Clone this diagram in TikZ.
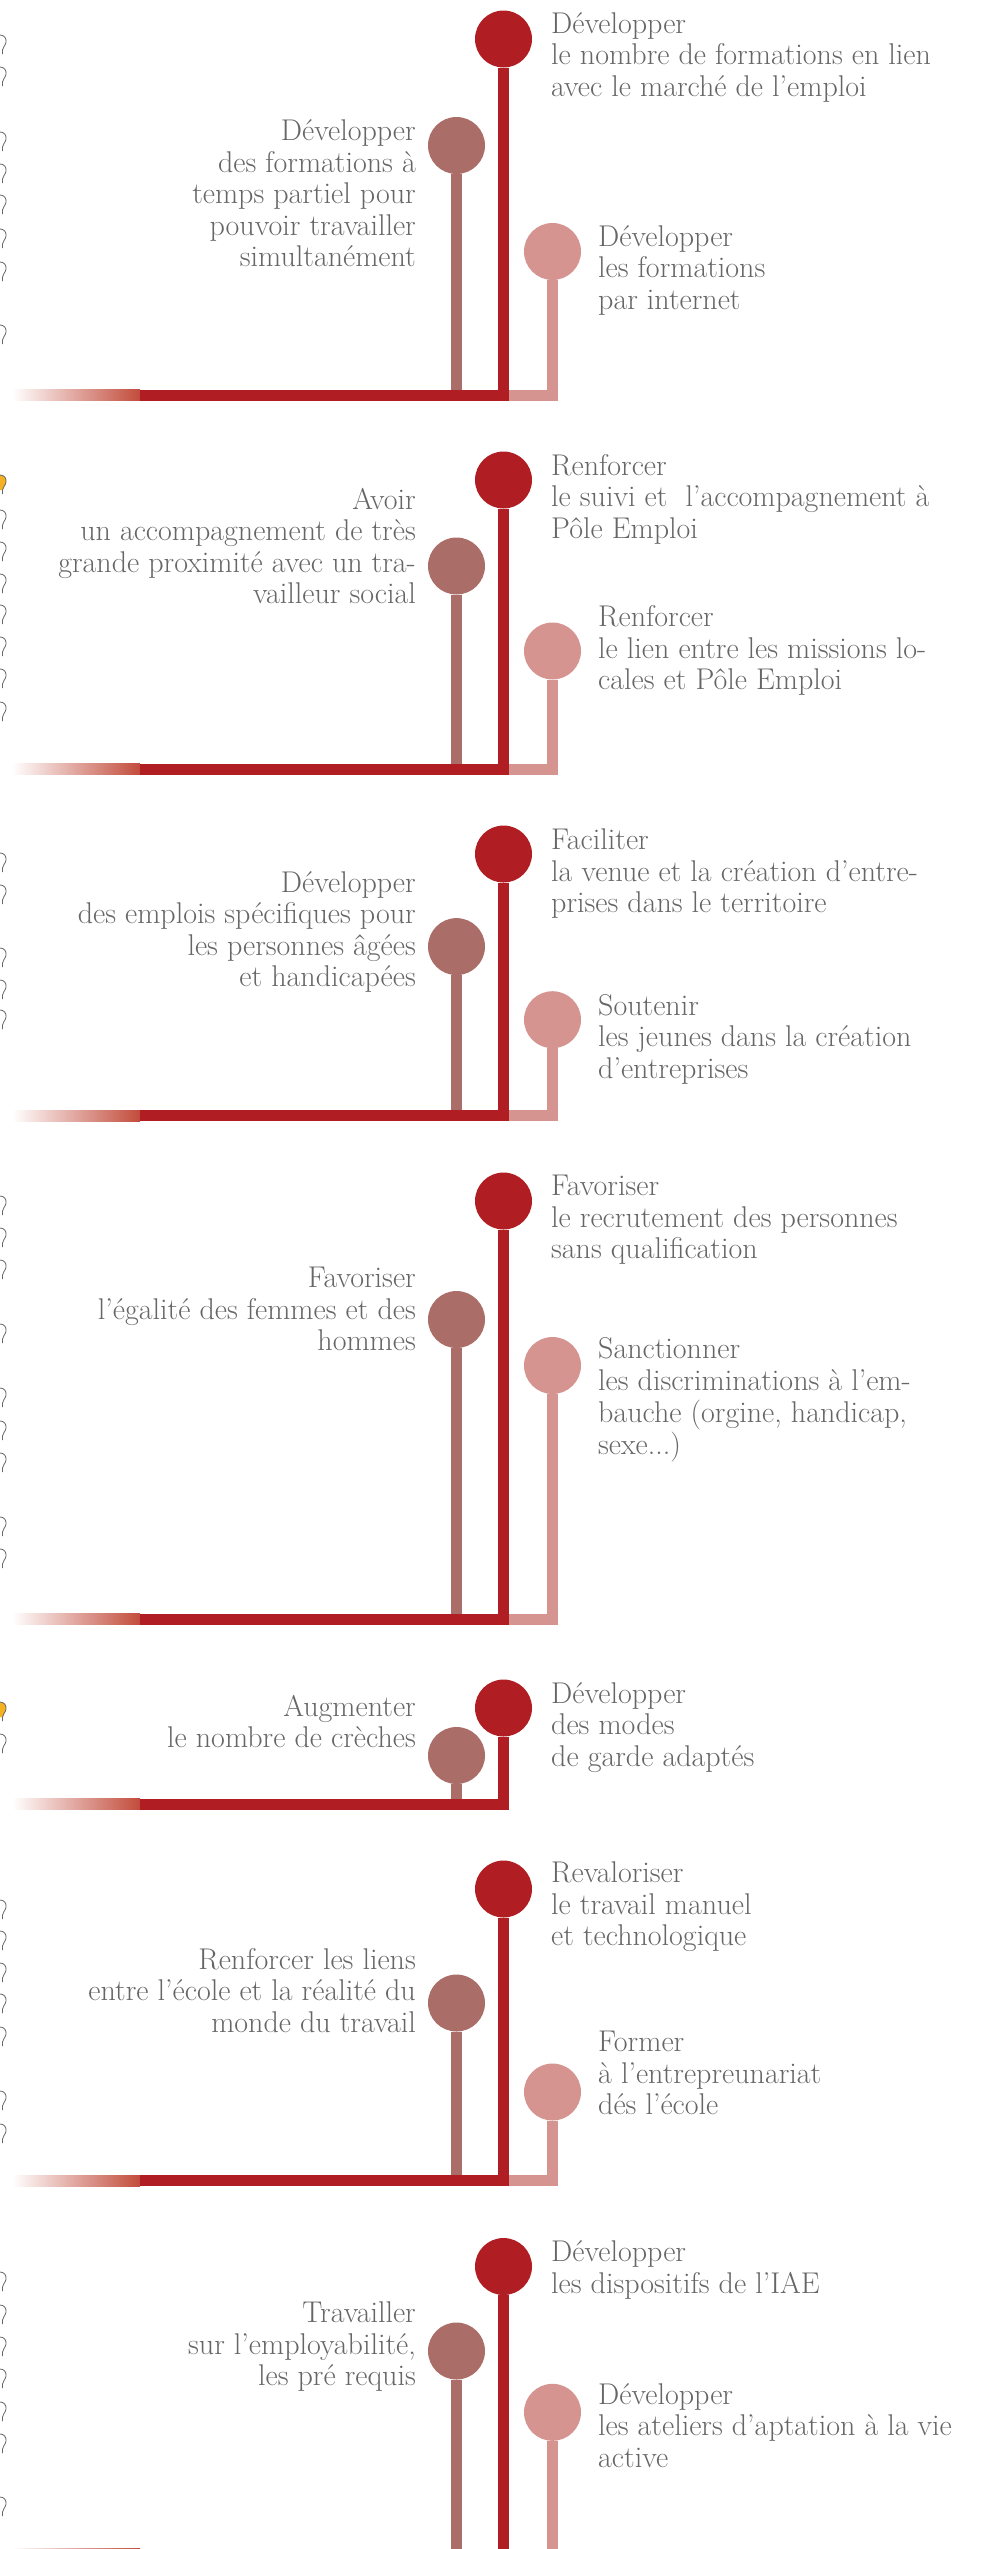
\documentclass[tikz,border=0pt]{standalone}
\usepackage{xcolor}
\definecolor{dred}{HTML}{B01E23}
\definecolor{mauve}{HTML}{AB6D67}
\definecolor{rose}{HTML}{D5948F}
\definecolor{gmid}{HTML}{DA9C88}
\definecolor{gend}{HTML}{C24C3C}
\definecolor{txtg}{HTML}{666666}
\definecolor{bulbY}{HTML}{F4B223}
\definecolor{bulbG}{HTML}{666666}
\newcommand\lines[2]{\begin{tabular}[t]{@{}#1@{}}#2\end{tabular}}
\tikzset{
  dot/.style={circle, inner sep=0pt, minimum size=57pt, draw=none},
  ddot/.style={dot, fill=dred},
  mdot/.style={dot, fill=mauve},
  pdot/.style={dot, fill=rose},
  dline/.style={draw=dred, line width=11pt, line join=miter},
  mline/.style={draw=mauve, line width=11pt},
  pline/.style={draw=rose, line width=11pt, line join=miter},
  grad/.style={left color=white, middle color=gmid, right color=gend},
  rtxt/.style={anchor=base west, inner sep=0pt, text=txtg, font=\fontsize{30}{31.5}\selectfont},
  ltxt/.style={anchor=base east, inner sep=0pt, text=txtg, font=\fontsize{30}{31.5}\selectfont},
  bulbline/.style={draw=bulbG, line width=0.8pt},
}
\begin{document}
\begin{tikzpicture}[x=1pt, y=-1pt]
\useasboundingbox (0,0) rectangle (997,2549);
\clip (0,0) rectangle (997,2549);

% ---------- left edge bulbs ----------
\foreach \c in {43,75,140,172,203,237,270,333,518,550,582,613,645,677,710,
  861,893,956,988,1018,1204,1236,1268,1332,1396,1429,1461,1525,1557,1742,
  1908,1939,1971,2002,2035,2099,2132,2280,2313,2345,2377,2410,2442,2505}{
  \draw[bulbline] (0,\c-8) .. controls (4,\c-8) and (6.5,\c-5) .. (6,\c-1)
    .. controls (5.5,\c+3) and (2.5,\c+4) .. (2.5,\c+7) -- (2.5,\c+11);
}
\foreach \c in {483,1710}{
  \fill[bulbY] (0,\c-8) .. controls (4,\c-8) and (6.5,\c-5) .. (6,\c-1)
    .. controls (5.5,\c+3) and (2.5,\c+4) .. (2.5,\c+7) -- (0,\c+7) -- cycle;
  \draw[bulbline] (0,\c-8) .. controls (4,\c-8) and (6.5,\c-5) .. (6,\c-1)
    .. controls (5.5,\c+3) and (2.5,\c+4) .. (2.5,\c+7) -- (2.5,\c+11);
}

% ---------- section 1 ----------
\node[pdot] (p1) at (552.5,251.5) {};
\node[mdot] (m1) at (456.5,145.5) {};
\node[ddot] (d1) at (503.5,39) {};
\coordinate (g1) at (12,395);
\coordinate (s1) at (140,395);
\draw[pline] (p1.south) |- (d1.south |- s1);
\draw[mline] (m1.south) -- (m1.south |- s1);
\shade[grad] ([yshift=5.5pt]g1) rectangle ([yshift=-5.5pt]s1);
\draw[dline] (d1.south) |- (s1);
\node[rtxt] (rt1) at (551,33) {\lines{l}{Développer\\le nombre de formations en lien\\avec le marché de l’emploi}};
\node[ltxt] (lt1) at (416,140.7) {\lines{r}{Développer\\des formations à\\temps partiel pour\\pouvoir travailler\\simultanément}};
\node[rtxt] (pt1) at (598,246) {\lines{l}{Développer\\les formations\\par internet}};

% ---------- section 2 ----------
\node[pdot] (p2) at (552.5,651) {};
\node[mdot] (m2) at (456.5,566) {};
\node[ddot] (d2) at (503.5,480) {};
\coordinate (g2) at (12,769);
\coordinate (s2) at (140,769);
\draw[pline] (p2.south) |- (d2.south |- s2);
\draw[mline] (m2.south) -- (m2.south |- s2);
\shade[grad] ([yshift=5.5pt]g2) rectangle ([yshift=-5.5pt]s2);
\draw[dline] (d2.south) |- (s2);
\node[rtxt] (rt2) at (551,475) {\lines{l}{Renforcer\\le suivi et\ \ l’accompagnement à\\Pôle Emploi}};
\node[ltxt] (lt2) at (416,509.3) {\lines{r}{Avoir\\un accompagnement de très\\grande proximité avec un tra-\\vailleur social}};
\node[rtxt] (pt2) at (598,626.7) {\lines{l}{Renforcer\\le lien entre les missions lo-\\cales et Pôle Emploi}};

% ---------- section 3 ----------
\node[pdot] (p3) at (552.5,1019.7) {};
\node[mdot] (m3) at (456.5,946.6) {};
\node[ddot] (d3) at (503.5,854) {};
\coordinate (g3) at (12,1115.7);
\coordinate (s3) at (140,1115.7);
\draw[pline] (p3.south) |- (d3.south |- s3);
\draw[mline] (m3.south) -- (m3.south |- s3);
\shade[grad] ([yshift=5.5pt]g3) rectangle ([yshift=-5.5pt]s3);
\draw[dline] (d3.south) |- (s3);
\node[rtxt] (rt3) at (551,849.5) {\lines{l}{Faciliter\\la venue et la création d’entre-\\prises dans le territoire}};
\node[ltxt] (lt3) at (416,892) {\lines{r}{Développer\\des emplois spécifiques pour\\les personnes âgées\\et handicapées}};
\node[rtxt] (pt3) at (598,1015) {\lines{l}{Soutenir\\les jeunes dans la création\\d’entreprises}};

% ---------- section 4 ----------
\node[pdot] (p4) at (552.5,1365.5) {};
\node[mdot] (m4) at (456.5,1319.5) {};
\node[ddot] (d4) at (503.5,1201) {};
\coordinate (g4) at (12,1619);
\coordinate (s4) at (140,1619);
\draw[pline] (p4.south) |- (d4.south |- s4);
\draw[mline] (m4.south) -- (m4.south |- s4);
\shade[grad] ([yshift=5.5pt]g4) rectangle ([yshift=-5.5pt]s4);
\draw[dline] (d4.south) |- (s4);
\node[rtxt] (rt4) at (551,1195.7) {\lines{l}{Favoriser\\le recrutement des personnes\\sans qualification}};
\node[ltxt] (lt4) at (416,1287.5) {\lines{r}{Favoriser\\l’égalité des femmes et des\\hommes}};
\node[rtxt] (pt4) at (598,1358.9) {\lines{l}{Sanctionner\\les discriminations à l’em-\\bauche (orgine, handicap,\\sexe...)}};

% ---------- section 5 ----------
\node[mdot] (m5) at (456.5,1755.5) {};
\node[ddot] (d5) at (503.5,1708) {};
\coordinate (g5) at (12,1804);
\coordinate (s5) at (140,1804);
\draw[mline] (m5.south) -- ([yshift=-5.5pt]m5.south |- s5);
\shade[grad] ([yshift=5.5pt]g5) rectangle ([yshift=-5.5pt]s5);
\draw[dline] (d5.south) |- (s5);
\node[rtxt] (rt5) at (551,1703.3) {\lines{l}{Développer\\des modes\\de garde adaptés}};
\node[ltxt] (lt5) at (416,1716) {\lines{r}{Augmenter\\le nombre de crèches}};

% ---------- section 6 ----------
\node[pdot] (p6) at (552.5,2092) {};
\node[mdot] (m6) at (456.5,2003) {};
\node[ddot] (d6) at (503.5,1889) {};
\coordinate (g6) at (12,2180.5);
\coordinate (s6) at (140,2180.5);
\draw[pline] (p6.south) |- (d6.south |- s6);
\draw[mline] (m6.south) -- (m6.south |- s6);
\shade[grad] ([yshift=5.5pt]g6) rectangle ([yshift=-5.5pt]s6);
\draw[dline] (d6.south) |- (s6);
\node[rtxt] (rt6) at (551,1882.7) {\lines{l}{Revaloriser\\le travail manuel\\et technologique}};
\node[ltxt] (lt6) at (416,1969.3) {\lines{r}{Renforcer les liens\\entre l’école et la réalité du\\monde du travail}};
\node[rtxt] (pt6) at (598,2051.7) {\lines{l}{Former\\à l’entrepreunariat\\dés l’école}};

% ---------- section 7 ----------
\node[pdot] (p7) at (552.5,2412.3) {};
\node[mdot] (m7) at (456.5,2351) {};
\node[ddot] (d7) at (503.5,2266.5) {};
\coordinate (g7) at (12,2554);
\coordinate (s7) at (140,2554);
\draw[pline] (p7.south) |- (d7.south |- s7);
\draw[mline] (m7.south) -- (m7.south |- s7);
\shade[grad] ([yshift=5.5pt]g7) rectangle ([yshift=-5.5pt]s7);
\draw[dline] (d7.south) |- (s7);
\node[rtxt] (rt7) at (551,2261.7) {\lines{l}{Développer\\les dispositifs de l’IAE}};
\node[ltxt] (lt7) at (416,2322.7) {\lines{r}{Travailler\\sur l’employabilité,\\les pré requis}};
\node[rtxt] (pt7) at (598,2404) {\lines{l}{Développer\\les ateliers d’aptation à la vie\\active}};
\end{tikzpicture}
\end{document}
